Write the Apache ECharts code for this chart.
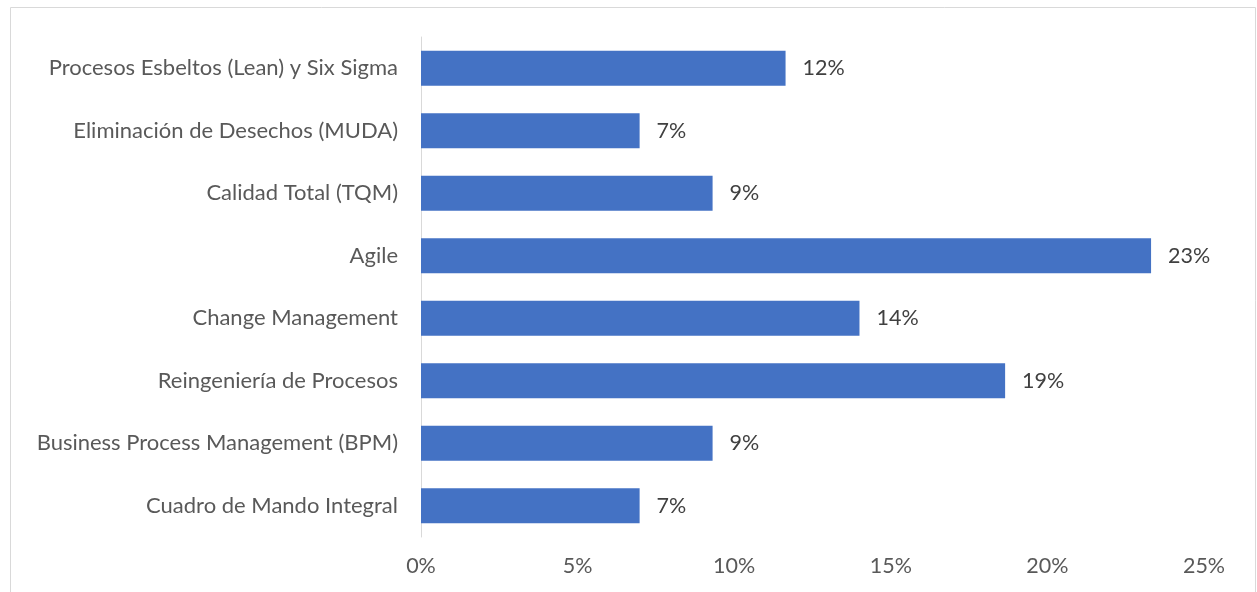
<!DOCTYPE html>
<html>
<head>
<meta charset="utf-8">
<script src="https://cdn.jsdelivr.net/npm/echarts@6/dist/echarts.min.js"></script>
<style>
  html, body { margin: 0; padding: 0; background: #fff; }
  #chart { width: 1257px; height: 592px; }
</style>
</head>
<body>
<div id="chart"></div>
<script>
// Categories listed bottom to top (category axis starts at the bottom)
const categories = [
  'Cuadro de Mando Integral',
  'Business Process Management (BPM)',
  'Reingeniería de Procesos',
  'Change Management',
  'Agile',
  'Calidad Total (TQM)',
  'Eliminación de Desechos (MUDA)',
  'Procesos Esbeltos (Lean) y Six Sigma'
];
// Share of each methodology, in percent
const shares = [6.98, 9.31, 18.65, 14.0, 23.31, 9.31, 6.98, 11.64];
const axisMax = 25;
const axisStep = 5;

const chart = echarts.init(document.getElementById('chart'));
const fontFamily = 'Lato, "Open Sans", sans-serif';
chart.setOption({
  animation: false,
  grid: { left: 421, right: 53, top: 37, bottom: 55, containLabel: false },
  graphic: [{
    type: 'rect',
    shape: { x: 10.5, y: 7.5, width: 1245, height: 600 },
    style: { fill: 'none', stroke: '#d9d9d9', lineWidth: 1 },
    silent: true
  }],
  xAxis: {
    type: 'value',
    min: 0,
    max: axisMax,
    interval: axisStep,
    axisLine: { show: false },
    axisTick: { show: false },
    splitLine: { show: false },
    axisLabel: {
      formatter: v => v + '%',
      color: '#595959',
      fontSize: 21.5,
      fontFamily: fontFamily,
      margin: 18
    }
  },
  yAxis: {
    type: 'category',
    data: categories,
    axisLine: { show: true, lineStyle: { color: '#d9d9d9', width: 1 } },
    axisTick: { show: false },
    axisLabel: {
      color: '#595959',
      fontSize: 22,
      fontFamily: fontFamily,
      margin: 23
    }
  },
  series: [{
    type: 'bar',
    data: shares,
    barCategoryGap: '44%',
    itemStyle: { color: '#4472c4' },
    label: {
      show: true,
      position: 'right',
      distance: 17,
      formatter: p => Math.round(p.value) + '%',
      color: '#404040',
      fontSize: 21.5,
      fontFamily: fontFamily
    }
  }]
});
</script>
</body>
</html>
